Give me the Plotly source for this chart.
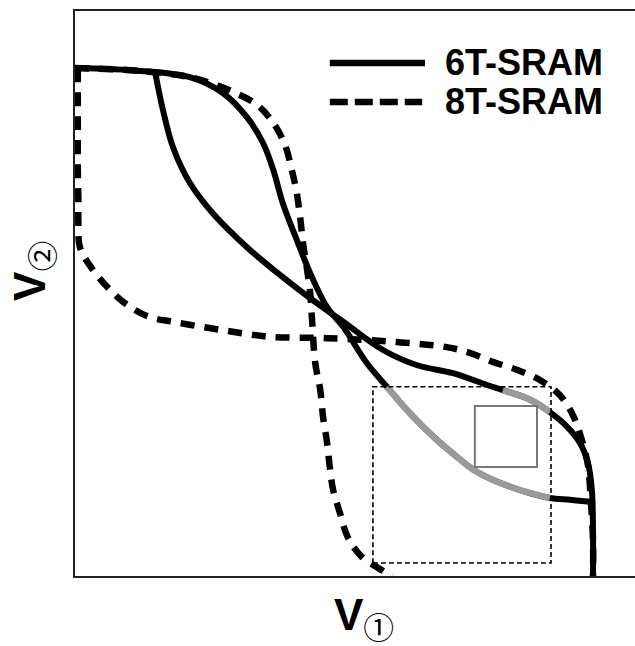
import numpy as np
import plotly.graph_objects as go

# Read butterfly curves (normalised node voltages, 0..1)
# 6T-SRAM: inverter 1 (V2 as a function of V1)
sram6_a_v1 = [0.0, 0.116, 0.205, 0.264, 0.307, 0.336, 0.354, 0.371, 0.396, 0.420, 0.450,
              0.479, 0.521, 0.557, 0.598, 0.646, 0.682, 0.718, 0.777, 0.848, 0.884, 0.923]
sram6_a_v2 = [0.899, 0.894, 0.883, 0.855, 0.812, 0.766, 0.719, 0.660, 0.595, 0.536, 0.476,
              0.441, 0.377, 0.335, 0.288, 0.241, 0.211, 0.184, 0.158, 0.138, 0.135, 0.131]
# 6T-SRAM: inverter 2 (V1 as a function of V2)
sram6_b_v1 = [0.143, 0.157, 0.175, 0.205, 0.246, 0.307, 0.371, 0.425, 0.479, 0.550, 0.611,
              0.675, 0.736, 0.764, 0.813, 0.848, 0.879, 0.902, 0.916, 0.923, 0.925, 0.925]
sram6_b_v2 = [0.892, 0.825, 0.759, 0.696, 0.642, 0.582, 0.529, 0.488, 0.450, 0.400, 0.373,
              0.359, 0.338, 0.329, 0.312, 0.290, 0.264, 0.235, 0.200, 0.152, 0.081, 0.0]
# 8T-SRAM: inverter 1
sram8_a_v1 = [0.0, 0.116, 0.205, 0.241, 0.282, 0.325, 0.354, 0.375, 0.387, 0.396, 0.402, 0.407,
              0.414, 0.420, 0.423, 0.429, 0.438, 0.443, 0.450, 0.455, 0.461, 0.473, 0.487,
              0.512, 0.554, 0.566]
sram8_a_v2 = [0.899, 0.894, 0.883, 0.873, 0.857, 0.834, 0.802, 0.763, 0.719, 0.678, 0.635, 0.591,
              0.545, 0.501, 0.458, 0.377, 0.329, 0.281, 0.237, 0.193, 0.152, 0.112, 0.069,
              0.034, 0.007, 0.0]
# 8T-SRAM: inverter 2
sram8_b_v1 = [0.005, 0.005, 0.005, 0.006, 0.006, 0.009, 0.032, 0.059, 0.093, 0.134, 0.175, 0.220,
              0.264, 0.309, 0.354, 0.450, 0.575, 0.664, 0.705, 0.746, 0.789, 0.830, 0.866,
              0.889, 0.905, 0.916, 0.921, 0.925, 0.925]
sram8_b_v2 = [0.899, 0.807, 0.719, 0.665, 0.625, 0.581, 0.542, 0.510, 0.480, 0.458, 0.450, 0.442,
              0.435, 0.428, 0.423, 0.421, 0.414, 0.405, 0.395, 0.379, 0.365, 0.347, 0.320,
              0.285, 0.241, 0.196, 0.135, 0.064, 0.0]

# Zoomed read-SNM region (dashed) and the largest embedded square
snm_region_v1 = [0.532, 0.850]
snm_region_v2 = [0.023, 0.335]
snm_square_v1 = [0.714, 0.825]
snm_square_v2 = [0.193, 0.301]

legend_labels = ["6T-SRAM", "8T-SRAM"]

FONT = "Liberation Sans, Arial, Noto Sans CJK SC, sans-serif"


def inside_region(xs, ys, tol=0.002):
    xs, ys = np.asarray(xs), np.asarray(ys)
    m = ((xs >= snm_region_v1[0] - tol) & (xs <= snm_region_v1[1] + tol) &
         (ys >= snm_region_v2[0] - tol) & (ys <= snm_region_v2[1] + tol))
    return xs[m], ys[m]


fig = go.Figure()

solid = dict(color="#000000", width=6, shape="spline", smoothing=1.0)
dashed = dict(color="#000000", width=6.5, shape="spline", smoothing=1.0, dash="14px,10px")

fig.add_trace(go.Scatter(x=sram8_a_v1, y=sram8_a_v2, mode="lines", line=dashed, hoverinfo="skip"))
fig.add_trace(go.Scatter(x=sram8_b_v1, y=sram8_b_v2, mode="lines", line=dashed, hoverinfo="skip"))
fig.add_trace(go.Scatter(x=sram6_a_v1, y=sram6_a_v2, mode="lines", line=solid, hoverinfo="skip"))
fig.add_trace(go.Scatter(x=sram6_b_v1, y=sram6_b_v2, mode="lines", line=solid, hoverinfo="skip"))

# highlight the 6T curve portions that lie inside the SNM region
for xs, ys in ((sram6_a_v1, sram6_a_v2), (sram6_b_v1, sram6_b_v2)):
    gx, gy = inside_region(xs, ys)
    fig.add_trace(go.Scatter(x=gx, y=gy, mode="lines", hoverinfo="skip",
                             line=dict(color="#9a9a9a", width=6.5, shape="spline", smoothing=1.0)))

shapes = [
    dict(type="rect", xref="x", yref="y",
         x0=snm_region_v1[0], x1=snm_region_v1[1], y0=snm_region_v2[0], y1=snm_region_v2[1],
         line=dict(color="#000000", width=1.6, dash="5px,3px")),
    dict(type="rect", xref="x", yref="y",
         x0=snm_square_v1[0], x1=snm_square_v1[1], y0=snm_square_v2[0], y1=snm_square_v2[1],
         line=dict(color="#777777", width=2)),
    # legend samples
    dict(type="line", xref="x", yref="y", x0=0.455, x1=0.625, y0=0.908, y1=0.908,
         line=dict(color="#000000", width=6.5)),
    dict(type="line", xref="x", yref="y", x0=0.455, x1=0.620, y0=0.839, y1=0.839,
         line=dict(color="#000000", width=6.5, dash="18px,7px")),
]

annotations = [
    dict(x=0.657, y=0.908, xref="x", yref="y", text="<b>%s</b>" % legend_labels[0],
         showarrow=False, xanchor="left", yanchor="middle",
         font=dict(family=FONT, size=36, color="#000000")),
    dict(x=0.657, y=0.839, xref="x", yref="y", text="<b>%s</b>" % legend_labels[1],
         showarrow=False, xanchor="left", yanchor="middle",
         font=dict(family=FONT, size=36, color="#000000")),
    dict(x=0.516, y=-0.074, xref="paper", yref="paper", text="<b>V</b><sub>①</sub>",
         showarrow=False, xanchor="center", yanchor="middle",
         font=dict(family=FONT, size=44, color="#000000")),
    dict(x=-0.075, y=0.54, xref="paper", yref="paper", text="<b>V</b><sub>②</sub>",
         showarrow=False, xanchor="center", yanchor="middle", textangle=-90,
         font=dict(family=FONT, size=44, color="#000000")),
]

axis_common = dict(range=[0, 1], showgrid=False, zeroline=False, showticklabels=False,
                   ticks="", showline=True, linecolor="#222222", linewidth=2, fixedrange=True)

fig.update_layout(
    width=635, height=646,
    margin=dict(l=75, r=0, t=11, b=70),
    paper_bgcolor="#ffffff", plot_bgcolor="#ffffff",
    showlegend=False,
    xaxis=dict(**axis_common, mirror=True),
    yaxis=dict(**axis_common, mirror=False),
    shapes=shapes,
    annotations=annotations,
)

fig.write_html("out.html")
